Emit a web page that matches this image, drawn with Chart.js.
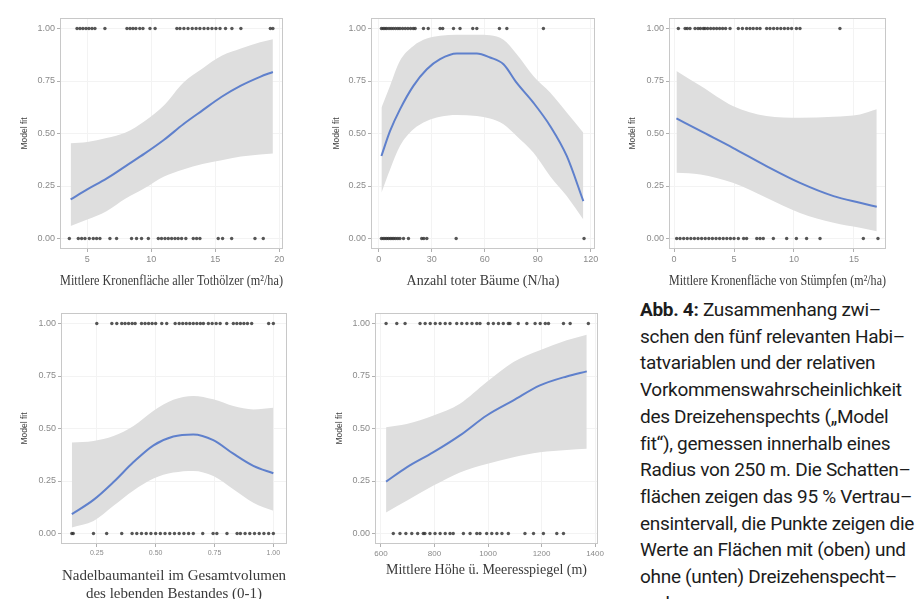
<!DOCTYPE html>
<html lang="de">
<head>
<meta charset="utf-8">
<title>Abb. 4</title>
<script src="https://cdn.jsdelivr.net/npm/chart.js@4.4.1/dist/chart.umd.min.js"></script>
<style>
  html, body { margin:0; padding:0; background:#fff; }
  body { position:relative; width:923px; height:599px; overflow:hidden; }
  canvas { position:absolute; }
  .cap { position:absolute; left:640px; font-family:Roboto, "Noto Sans", sans-serif; font-size:19px; color:#1c1c1c; white-space:nowrap; line-height:20px; letter-spacing:-0.3px; }
  .cap b { font-weight:700; }
</style>
</head>
<body>
<canvas id="c1"></canvas>
<canvas id="c2"></canvas>
<canvas id="c3"></canvas>
<canvas id="c4"></canvas>
<canvas id="c5"></canvas>
<div id="caption"></div>
<script>
// ---------- shared axis labels ----------
const yTickVals   = [0, 0.25, 0.5, 0.75, 1];
const yTickLabels = ['0.00', '0.25', '0.50', '0.75', '1.00'];
const yTitle = 'Model fit';

// ---------- Panel 1: Mittlere Kronenfläche aller Tothölzer ----------
const p1Title = 'Mittlere Kronenfläche aller Tothölzer (m²/ha)';
const p1Ticks = [5, 10, 15, 20];
const p1TickLabels = ['5', '10', '15', '20'];
const p1X     = [3.7, 5.0, 6.5, 8.0, 9.5, 11.0, 12.5, 14.0, 15.5, 17.0, 18.5, 19.5];
const p1Fit   = [0.186, 0.234, 0.285, 0.345, 0.405, 0.470, 0.544, 0.610, 0.675, 0.728, 0.770, 0.793];
const p1Upper = [0.453, 0.459, 0.478, 0.505, 0.560, 0.635, 0.742, 0.810, 0.870, 0.905, 0.935, 0.949];
const p1Lower = [0.059, 0.090, 0.130, 0.190, 0.240, 0.295, 0.329, 0.355, 0.373, 0.390, 0.400, 0.405];
const p1Present = [4.2, 4.43, 4.66, 4.9, 5.13, 5.37, 5.6, 6.38, 8.1, 8.34, 8.57, 8.8, 9.1, 9.35, 9.9, 10.3,
                   12.0, 12.24, 12.55, 12.87, 13.2, 13.5, 13.8, 14.12, 14.43, 14.74, 15.05, 15.37, 15.8, 16.3, 17.0, 19.3, 19.5];
const p1Absent  = [3.6, 4.3, 4.56, 4.82, 5.16, 5.47, 5.73, 5.99, 6.77, 7.29, 8.46, 8.85, 9.24, 9.77, 10.55, 10.8,
                   11.07, 11.33, 11.59, 11.85, 12.1, 12.37, 12.7, 13.28, 13.54, 13.8, 15.23, 15.57, 16.28, 18.1, 18.75];

// ---------- Panel 2: Anzahl toter Bäume ----------
const p2Title = 'Anzahl toter Bäume (N/ha)';
const p2Ticks = [0, 30, 60, 90, 120];
const p2TickLabels = ['0', '30', '60', '90', '120'];
const p2X     = [1.5, 6.4, 12, 19.6, 27.2, 34.7, 44.2, 55.5, 63, 70.6, 78, 87.5, 97, 106.4, 115.8];
const p2Fit   = [0.393, 0.512, 0.615, 0.727, 0.806, 0.854, 0.881, 0.881, 0.862, 0.830, 0.742, 0.647, 0.536, 0.393, 0.178];
const p2Upper = [0.623, 0.727, 0.846, 0.917, 0.952, 0.965, 0.970, 0.970, 0.968, 0.946, 0.878, 0.774, 0.695, 0.600, 0.504];
const p2Lower = [0.218, 0.329, 0.440, 0.520, 0.560, 0.580, 0.588, 0.583, 0.571, 0.544, 0.488, 0.409, 0.297, 0.202, 0.090];
const p2Present = [1.5, 2.5, 3.5, 4.5, 5.8, 7, 8.2, 9.5, 10.8, 12, 13.5, 15, 16.5, 18, 19.5, 20.6,
                   25.3, 28, 34.7, 36.2, 42.3, 46, 53.2, 55.5, 68.3, 72.5, 93.2];
const p2Absent  = [1.5, 2.5, 3.5, 4.5, 5.5, 6.5, 7.5, 8.5, 9.6, 10.8, 12, 14, 16.8, 24.3, 25.5, 27.2, 43.8, 116.2];

// ---------- Panel 3: Mittlere Kronenfläche von Stümpfen ----------
const p3Title = 'Mittlere Kronenfläche von Stümpfen (m²/ha)';
const p3Ticks = [0, 5, 10, 15];
const p3TickLabels = ['0', '5', '10', '15'];
const p3X     = [0.2, 2.2, 4.9, 7.7, 10.5, 13.3, 15.5, 16.9];
const p3Fit   = [0.572, 0.512, 0.432, 0.345, 0.265, 0.202, 0.170, 0.151];
const p3Upper = [0.798, 0.727, 0.631, 0.583, 0.575, 0.580, 0.591, 0.615];
const p3Lower = [0.313, 0.305, 0.265, 0.194, 0.122, 0.075, 0.051, 0.035];
const p3Present = [0.36, 0.92, 1.1, 1.33, 1.75, 2.0, 2.2, 2.44, 2.58, 2.8, 3.05, 3.3, 3.55, 3.8, 4.05, 4.3, 4.67,
                   5.36, 5.7, 6.05, 6.33, 6.6, 6.9, 7.17, 7.72, 8.0, 8.3, 8.6, 8.9, 9.2, 9.5, 9.8, 10.2, 10.5, 13.83];
const p3Absent  = [0.22, 0.5, 0.8, 1.1, 1.4, 1.7, 2.0, 2.3, 2.6, 2.9, 3.2, 3.5, 3.8, 4.1, 4.4, 4.7, 5.0, 5.36,
                   5.8, 6.05, 6.9, 7.17, 7.44, 8.28, 9.39, 10.2, 11.05, 12.17, 15.78, 17.0];

// ---------- Panel 4: Nadelbaumanteil ----------
const p4Title = ['Nadelbaumanteil im Gesamtvolumen', 'des lebenden Bestandes (0-1)'];
const p4Ticks = [0.25, 0.5, 0.75, 1.0];
const p4TickLabels = ['0.25', '0.50', '0.75', '1.00'];
const p4X     = [0.144, 0.236, 0.321, 0.406, 0.491, 0.575, 0.660, 0.745, 0.830, 0.915, 1.0];
const p4Fit   = [0.092, 0.160, 0.245, 0.340, 0.420, 0.462, 0.472, 0.445, 0.380, 0.322, 0.287];
const p4Upper = [0.433, 0.441, 0.464, 0.512, 0.585, 0.637, 0.655, 0.639, 0.607, 0.591, 0.599];
const p4Lower = [0.029, 0.060, 0.132, 0.205, 0.262, 0.290, 0.298, 0.274, 0.211, 0.147, 0.108];
const p4Present = [0.25, 0.314, 0.335, 0.356, 0.37, 0.385, 0.40, 0.413, 0.44, 0.455, 0.47, 0.485, 0.50, 0.526, 0.547,
                   0.583, 0.60, 0.615, 0.63, 0.645, 0.66, 0.675, 0.69, 0.703, 0.724, 0.74, 0.757, 0.774, 0.802,
                   0.83, 0.845, 0.86, 0.875, 0.89, 0.908, 0.98, 1.0];
const p4Absent  = [0.144, 0.15, 0.236, 0.292, 0.356, 0.40, 0.42, 0.44, 0.46, 0.48, 0.50, 0.52, 0.54, 0.56, 0.58,
                   0.60, 0.62, 0.64, 0.66, 0.70, 0.744, 0.76, 0.803, 0.846, 0.86, 0.88, 0.90, 0.92, 0.94, 0.96, 0.98, 1.0];

// ---------- Panel 5: Mittlere Höhe ü. Meeresspiegel ----------
const p5Title = 'Mittlere Höhe ü. Meeresspiegel (m)';
const p5Ticks = [600, 800, 1000, 1200, 1400];
const p5TickLabels = ['600', '800', '1000', '1200', '1400'];
const p5X     = [619, 696, 796, 895, 995, 1095, 1194, 1294, 1369];
const p5Fit   = [0.247, 0.315, 0.387, 0.467, 0.562, 0.634, 0.705, 0.748, 0.772];
const p5Upper = [0.506, 0.522, 0.562, 0.618, 0.721, 0.817, 0.873, 0.920, 0.947];
const p5Lower = [0.100, 0.156, 0.228, 0.291, 0.331, 0.363, 0.387, 0.398, 0.403];
const p5Present = [619, 659, 690, 746, 765, 784, 803, 821, 840, 858, 883, 902, 921, 940, 958, 970,
                   1001, 1020, 1039, 1057, 1076, 1082, 1113, 1145, 1176, 1195, 1214, 1226, 1282, 1307, 1375];
const p5Absent  = [646, 671, 693, 715, 737, 758, 764, 783, 802, 821, 840, 858, 870, 908, 933, 958, 970,
                   995, 1014, 1033, 1052, 1076, 1138, 1170, 1207, 1257, 1282];

// ---------- caption ----------
const captionLead = 'Abb. 4:';
const captionLines = [
  ' Zusammenhang zwi–',
  'schen den fünf relevanten Habi–',
  'tatvariablen und der relativen',
  'Vorkommenswahrscheinlichkeit',
  'des Dreizehenspechts („Model',
  'fit“), gemessen innerhalb eines',
  'Radius von 250 m. Die Schatten–',
  'flächen zeigen das 95 % Vertrau–',
  'ensintervall, die Punkte zeigen die',
  'Werte an Flächen mit (oben) und',
  'ohne (unten) Dreizehenspecht–',
  'vorkommen an.'
];

// ---------- styling ----------
const BAND = '#dedede';
const LINE = '#5f80cc';
const PT   = 'rgba(45,45,45,0.8)';

const frame = {
  id: 'frame',
  afterDatasetsDraw(chart) {
    const {ctx, chartArea: a} = chart;
    ctx.save();
    ctx.strokeStyle = '#c8c8c8';
    ctx.lineWidth = 1;
    ctx.strokeRect(Math.round(a.left) + 0.5, Math.round(a.top) + 0.5,
                   Math.round(a.right - a.left) - 1, Math.round(a.bottom - a.top) - 1);
    ctx.restore();
  }
};

// layout: box = [left, top, right, bottom] of plot panel
const panels = [
  {id:'c1', box:[60, 18, 283, 249], yTitleX:25,  xTitleY:281, xTitleSize:14, xTickSize:9,
   xmin:2.87, xmax:20.29, x:p1X, fit:p1Fit, up:p1Upper, lo:p1Lower, pres:p1Present, abs:p1Absent,
   ticks:p1Ticks, tickLabels:p1TickLabels, title:p1Title},
  {id:'c2', box:[371, 18, 595, 249], yTitleX:337, xTitleY:281, xTitleSize:14, xTickSize:9,
   xmin:-4.4, xmax:122.4, x:p2X, fit:p2Fit, up:p2Upper, lo:p2Lower, pres:p2Present, abs:p2Absent,
   ticks:p2Ticks, tickLabels:p2TickLabels, title:p2Title},
  {id:'c3', box:[669, 18, 886, 249], yTitleX:633, xTitleY:281, xTitleSize:14, xTickSize:9,
   xmin:-0.42, xmax:17.67, x:p3X, fit:p3Fit, up:p3Upper, lo:p3Lower, pres:p3Present, abs:p3Absent,
   ticks:p3Ticks, tickLabels:p3TickLabels, title:p3Title},
  {id:'c4', box:[61, 313, 287, 544], yTitleX:25,  xTitleY:594, xTitleSize:15, xTickSize:7,
   xmin:0.098, xmax:1.058, x:p4X, fit:p4Fit, up:p4Upper, lo:p4Lower, pres:p4Present, abs:p4Absent,
   ticks:p4Ticks, tickLabels:p4TickLabels, title:p4Title},
  {id:'c5', box:[375, 313, 598, 544], yTitleX:340, xTitleY:570, xTitleSize:14, xTickSize:8,
   xmin:577.6, xmax:1411, x:p5X, fit:p5Fit, up:p5Upper, lo:p5Lower, pres:p5Present, abs:p5Absent,
   ticks:p5Ticks, tickLabels:p5TickLabels, title:p5Title}
];

function buildPanel(p) {
  const cv = document.getElementById(p.id);
  const L = p.yTitleX - 12;
  const T = p.box[1] - 8;
  const R = p.box[2] + 16;
  const H = Math.round(p.xTitleY + 11 - T);
  const W = R - L;
  cv.width = W; cv.height = H;
  cv.style.left = L + 'px'; cv.style.top = T + 'px';
  cv.style.width = W + 'px'; cv.style.height = H + 'px';
  const xLH = p.xTitleSize * 1.2;
  const yTS = 8.5, yLH = yTS * 1.2;
  const line = ys => p.x.map((v, i) => ({x: v, y: ys[i]}));
  const pts = (arr, yv) => arr.map(v => ({x: v, y: yv}));
  const ptStyle = {showLine:false, pointRadius:1.7, pointBackgroundColor:PT, pointBorderWidth:0, order:1};
  new Chart(cv, {
    type: 'line',
    data: {datasets: [
      {data: line(p.up), fill: '+1', backgroundColor: BAND, borderWidth: 0, pointRadius: 0, cubicInterpolationMode: 'monotone', order: 3},
      {data: line(p.lo), fill: false, borderWidth: 0, pointRadius: 0, cubicInterpolationMode: 'monotone', order: 3},
      {data: line(p.fit), fill: false, borderColor: LINE, borderWidth: 2, pointRadius: 0, cubicInterpolationMode: 'monotone', order: 2},
      Object.assign({data: pts(p.pres, 1)}, ptStyle),
      Object.assign({data: pts(p.abs, 0)}, ptStyle)
    ]},
    options: {
      responsive: false, animation: false, events: [],
      layout: {padding: {left: 0, top: p.box[1] - T, right: R - p.box[2], bottom: 0}},
      plugins: {legend: {display: false}, tooltip: {enabled: false}},
      scales: {
        x: {
          type: 'linear', min: p.xmin, max: p.xmax,
          afterFit: s => { s.height = T + H - p.box[3]; },
          afterBuildTicks: s => { s.ticks = p.ticks.map(v => ({value: v})); },
          ticks: {autoSkip: false, maxRotation: 0, padding: 2, color: '#8a8a8a',
                  font: {family: 'Liberation Sans', size: p.xTickSize},
                  callback: (v, i) => p.tickLabels[i]},
          grid: {color: '#f3f3f3', tickLength: 3, tickColor: '#b0b0b0'},
          border: {display: false},
          title: {display: true, text: p.title, color: '#3a3a3a',
                  font: {family: 'Liberation Serif', size: p.xTitleSize, lineHeight: 1.2},
                  padding: {top: 0, bottom: 11 - xLH / 2}}
        },
        y: {
          type: 'linear', min: -0.05, max: 1.05,
          afterFit: s => { s.width = p.box[0] - L; },
          afterBuildTicks: s => { s.ticks = yTickVals.map(v => ({value: v})); },
          ticks: {autoSkip: false, padding: 2, color: '#8a8a8a',
                  font: {family: 'Liberation Sans', size: 9},
                  callback: (v, i) => yTickLabels[i]},
          grid: {color: '#f3f3f3', tickLength: 3, tickColor: '#b0b0b0'},
          border: {display: false},
          title: {display: true, text: yTitle, color: '#444',
                  font: {family: 'Liberation Sans', size: yTS, lineHeight: 1.2},
                  padding: {top: 12 - yLH / 2, bottom: 0}}
        }
      }
    },
    plugins: [frame]
  });
}
panels.forEach(buildPanel);

// caption text
const cap = document.getElementById('caption');
captionLines.forEach((t, i) => {
  const d = document.createElement('div');
  d.className = 'cap';
  d.style.top = (310 + i * 26.7 - 10) + 'px';
  if (i === 0) {
    const b = document.createElement('b');
    b.textContent = captionLead;
    d.appendChild(b);
  }
  d.appendChild(document.createTextNode(t));
  cap.appendChild(d);
});
</script>
</body>
</html>
